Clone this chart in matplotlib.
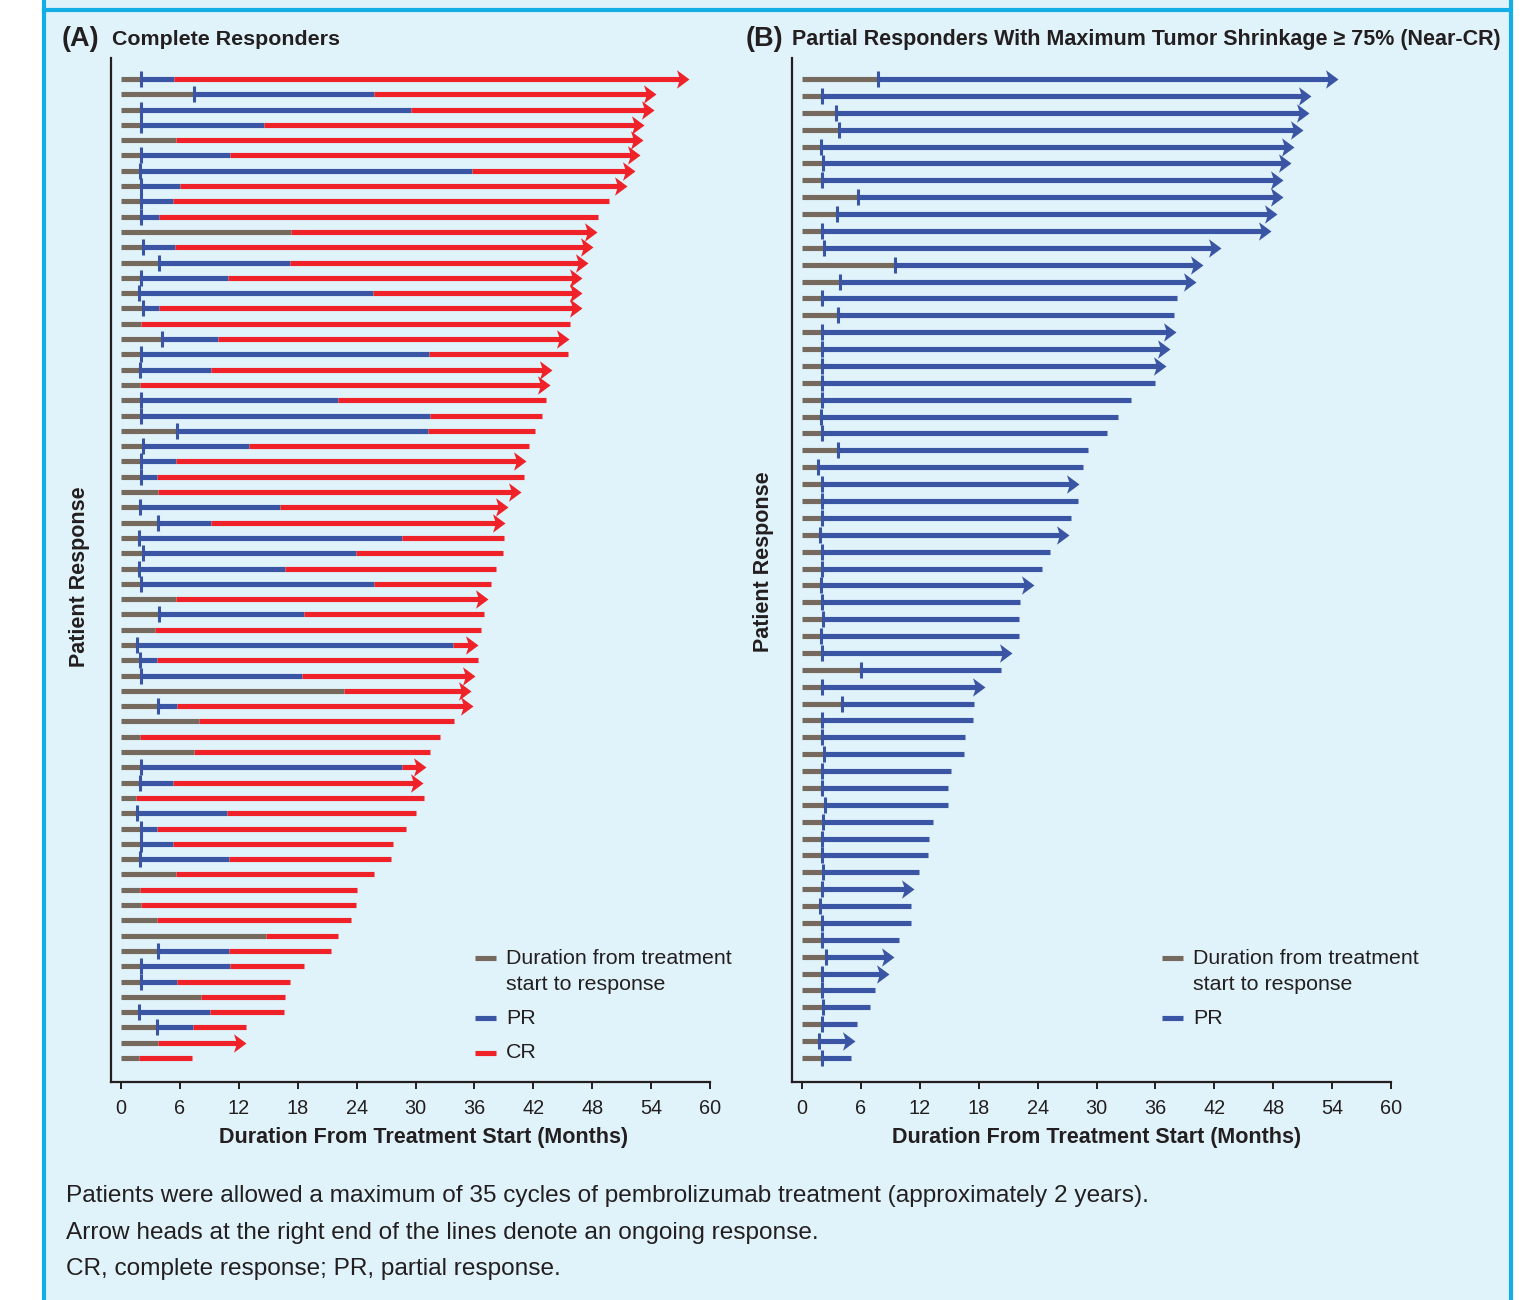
import matplotlib
matplotlib.use("Agg")
import matplotlib.pyplot as plt
from matplotlib.path import Path
from matplotlib.lines import Line2D
from matplotlib.patches import Rectangle

# ---------------- data ----------------
# Panel A: complete responders (months from treatment start)
a_response = [2.0, 7.4, 2.0, 2.0, 5.6, 2.0, 1.9, 2.0, 2.0, 2.0, 17.3, 2.2, 3.9, 2.0, 1.8, 2.2,
              2.0, 4.2, 2.0, 1.9, 1.9, 2.0, 2.0, 5.7, 2.2, 2.0, 2.0, 3.8, 1.9, 3.8, 1.8, 2.2,
              1.8, 2.0, 5.6, 3.9, 3.5, 1.6, 1.9, 2.0, 22.7, 3.8, 7.9, 1.9, 7.4, 2.0, 1.9, 1.5,
              1.6, 2.0, 2.0, 1.9, 5.6, 1.9, 2.0, 3.7, 14.8, 3.8, 2.0, 2.0, 8.2, 1.8, 3.7, 3.8,
              1.8]
a_cr_start = [5.4, 25.8, 29.5, 14.6, 5.6, 11.1, 35.8, 6.0, 5.3, 3.9, 17.3, 5.5, 17.2, 10.9, 25.7, 3.9,
              2.0, 9.9, 31.4, 9.2, 1.9, 22.1, 31.5, 31.3, 13.0, 5.6, 3.7, 3.8, 16.2, 9.2, 28.6, 23.9,
              16.7, 25.8, 5.6, 18.6, 3.5, 33.8, 3.7, 18.4, 22.7, 5.7, 7.9, 1.9, 7.4, 28.6, 5.3, 1.5,
              10.8, 3.7, 5.3, 11.0, 5.6, 1.9, 2.0, 3.7, 14.8, 11.0, 11.1, 5.7, 8.2, 9.1, 7.3, 3.8,
              1.8]
a_end = [57.9, 54.5, 54.3, 53.3, 53.2, 52.9, 52.4, 51.5, 49.7, 48.6, 48.5, 48.1, 47.6, 47.0, 47.0, 47.0,
         45.7, 45.6, 45.5, 43.9, 43.7, 43.3, 42.9, 42.2, 41.6, 41.3, 41.1, 40.7, 39.4, 39.1, 39.0, 38.9,
         38.2, 37.7, 37.4, 37.0, 36.7, 36.4, 36.4, 36.1, 35.7, 35.9, 33.9, 32.5, 31.5, 31.1, 30.8, 30.9,
         30.0, 29.0, 27.7, 27.5, 25.8, 24.0, 23.9, 23.4, 22.1, 21.4, 18.6, 17.2, 16.7, 16.6, 12.7, 12.7,
         7.2]
a_ongoing = [1, 1, 1, 1, 1, 1, 1, 1, 0, 0, 1, 1, 1, 1, 1, 1,
             0, 1, 0, 1, 1, 0, 0, 0, 0, 1, 0, 1, 1, 1, 0, 0,
             0, 0, 1, 0, 0, 1, 0, 1, 1, 1, 0, 0, 0, 1, 1, 0,
             0, 0, 0, 0, 0, 0, 0, 0, 0, 0, 0, 0, 0, 0, 0, 1,
             0]

# Panel B: partial responders with >= 75% shrinkage
b_response = [7.7, 2.0, 3.5, 3.8, 1.9, 2.1, 2.0, 5.7, 3.6, 2.0, 2.2, 9.5, 3.9, 2.0, 3.7,
              2.0, 2.0, 2.0, 2.0, 2.0, 1.9, 2.0, 3.7, 1.6, 2.0, 2.0, 2.0, 1.8, 2.0, 2.0,
              1.9, 2.0, 2.1, 1.9, 2.0, 6.0, 2.0, 4.1, 2.0, 2.0, 2.2, 2.0, 2.0, 2.3, 2.1,
              2.0, 2.0, 2.1, 2.0, 1.8, 2.0, 2.0, 2.4, 2.0, 2.0, 2.1, 2.0, 1.7, 2.0]
b_end = [54.6, 51.8, 51.6, 51.0, 50.1, 49.8, 49.0, 49.0, 48.4, 47.8, 42.7, 40.8, 40.1, 38.2, 37.9,
         38.1, 37.5, 37.1, 36.0, 33.5, 32.2, 31.1, 29.1, 28.6, 28.2, 28.1, 27.4, 27.2, 25.3, 24.4,
         23.6, 22.2, 22.1, 22.1, 21.4, 20.3, 18.6, 17.5, 17.4, 16.6, 16.5, 15.2, 14.9, 14.9, 13.3,
         12.9, 12.8, 11.9, 11.4, 11.1, 11.1, 9.9, 9.4, 8.9, 7.4, 6.9, 5.6, 5.4, 5.0]
b_ongoing = [1, 1, 1, 1, 1, 1, 1, 1, 1, 1, 1, 1, 1, 0, 0,
             1, 1, 1, 0, 0, 0, 0, 0, 0, 1, 0, 0, 1, 0, 0,
             1, 0, 0, 0, 1, 0, 1, 0, 0, 0, 0, 0, 0, 0, 0,
             0, 0, 0, 1, 0, 0, 0, 1, 1, 0, 0, 0, 1, 0]

x_ticks = [0, 6, 12, 18, 24, 30, 36, 42, 48, 54, 60]

# ---------------- style ----------------
W, H = 1526, 1300
BG = "#E1F3FA"
FRAME = "#14AEE6"
GRAY = "#76695D"
BLUE = "#3B55A5"
RED = "#EE2228"
INK = "#231F20"
LW = 3.7
HEAD_MS = 18.0          # arrow head marker size (points)
HEAD_BACK = 0.75        # months trimmed from a line that ends in an arrow head

NARROW = ["Liberation Sans Narrow", "Liberation Sans", "DejaVu Sans"]
REGULAR = ["Liberation Sans", "DejaVu Sans"]
plt.rcParams["font.family"] = REGULAR

# notched arrow head with its tip at the origin
ARROW = Path([(0, 0), (-1, 0.74), (-0.76, 0), (-1, -0.74), (0, 0)],
             [Path.MOVETO, Path.LINETO, Path.LINETO, Path.LINETO, Path.CLOSEPOLY])


def fx(x):
    return x / W


def fy(y):
    return 1 - y / H


fig = plt.figure(figsize=(W / 100, H / 100), dpi=100)
fig.patch.set_facecolor("white")
fig.add_artist(Rectangle((fx(44), 0), fx(1511) - fx(44), 1, transform=fig.transFigure,
                         facecolor=BG, edgecolor="none", zorder=-10))
for seg in [((44, 44), (0, H)), ((1511, 1511), (0, H)), ((44, 1511), (9.5, 9.5))]:
    fig.add_artist(Line2D([fx(v) for v in seg[0]], [fy(v) for v in seg[1]],
                          transform=fig.transFigure, color=FRAME, lw=3.0, zorder=-5))


def make_axes(left_px, zero_px, n_rows, first_px=79, last_px=1058, top_px=58, bottom_px=1082):
    px_per_month = (710 - 121) / 60
    right_px = zero_px + 60 * px_per_month
    ax = fig.add_axes([fx(left_px), fy(bottom_px), fx(right_px) - fx(left_px),
                       fy(top_px) - fy(bottom_px)])
    ax.set_facecolor("none")
    step = (last_px - first_px) / (n_rows - 1)
    ax.set_xlim(-(zero_px - left_px) / px_per_month, 60)
    ax.set_ylim((n_rows - 1) + (bottom_px - last_px) / step, -(first_px - top_px) / step)
    for side in ("top", "right"):
        ax.spines[side].set_visible(False)
    for side in ("left", "bottom"):
        ax.spines[side].set_color(INK)
        ax.spines[side].set_linewidth(1.6)
    ax.set_xticks(x_ticks)
    ax.set_xticklabels([str(t) for t in x_ticks])
    ax.tick_params(axis="x", direction="out", length=5, width=1.4, color=INK, pad=7.5,
                   labelsize=14.3, labelcolor=INK)
    ax.set_yticks([])
    return ax


def draw_row(ax, i, resp, cr, end, ongoing, last_color):
    stop = end - HEAD_BACK if ongoing else end
    ax.plot([0, resp], [i, i], color=GRAY, lw=LW, solid_capstyle="butt", zorder=2)
    if cr > resp:
        ax.plot([resp, min(cr, stop)], [i, i], color=BLUE, lw=LW, solid_capstyle="butt", zorder=2)
    if stop > cr:
        ax.plot([cr, stop], [i, i], color=last_color, lw=LW, solid_capstyle="butt", zorder=2)
    if cr > resp:
        ax.plot([resp], [i], marker="|", ms=11.5, mew=2.2, color=BLUE, zorder=4)
    if ongoing:
        ax.plot([end], [i], marker=ARROW, ms=HEAD_MS, mew=0, color=last_color, zorder=3)


# ---------------- panel A ----------------
axA = make_axes(110.5, 121, len(a_end))
for i in range(len(a_end)):
    draw_row(axA, i, a_response[i], a_cr_start[i], a_end[i], a_ongoing[i], RED)

# ---------------- panel B ----------------
axB = make_axes(792, 802, len(b_end))
for i in range(len(b_end)):
    draw_row(axB, i, b_response[i], b_end[i], b_end[i], b_ongoing[i], BLUE)

# ---------------- labels ----------------
for ax_x, x_center, y_center in [(80, 424, 577), (763, 1097, 562)]:
    fig.text(fx(ax_x), fy(y_center), "Patient Response", rotation=90, ha="center", va="center",
             family=REGULAR, weight="bold", fontsize=15.5, color=INK)
    fig.text(fx(x_center), fy(1137), "Duration From Treatment Start (Months)", ha="center",
             va="center", family=REGULAR, weight="bold", fontsize=15.5, color=INK)

fig.text(fx(62), fy(39.5), "(A)", ha="left", va="center", family=NARROW, weight="bold",
         fontsize=19.5, color=INK)
fig.text(fx(112), fy(39.5), "Complete Responders", ha="left", va="center", family=NARROW,
         weight="bold", fontsize=15.4, color=INK)
fig.text(fx(746), fy(39.5), "(B)", ha="left", va="center", family=NARROW, weight="bold",
         fontsize=19.5, color=INK)
fig.text(fx(792), fy(39.5), "Partial Responders With Maximum Tumor Shrinkage \u2265 75% (Near-CR)",
         ha="left", va="center", family=NARROW, weight="bold", fontsize=15.5, color=INK)


# legends
def legend_entry(x_handle, y, color, lines):
    fig.add_artist(Line2D([fx(x_handle), fx(x_handle + 21)], [fy(y), fy(y)],
                          transform=fig.transFigure, color=color, lw=LW, solid_capstyle="butt"))
    for k, line in enumerate(lines):
        fig.text(fx(x_handle + 31), fy(y + 26 * k), line, ha="left", va="center",
                 family=REGULAR, fontsize=15.4, color=INK)


for xh, entries in [(475, [(958, GRAY, ["Duration from treatment", "start to response"]),
                           (1018, BLUE, ["PR"]), (1053, RED, ["CR"])]),
                    (1162, [(958, GRAY, ["Duration from treatment", "start to response"]),
                            (1018, BLUE, ["PR"])])]:
    for y, c, txt in entries:
        legend_entry(xh, y, c, txt)

notes = ["Patients were allowed a maximum of 35 cycles of pembrolizumab treatment (approximately 2 years).",
         "Arrow heads at the right end of the lines denote an ongoing response.",
         "CR, complete response; PR, partial response."]
for k, note in enumerate(notes):
    fig.text(fx(66), fy(1196 + 36.5 * k), note, ha="left", va="center", family=REGULAR,
             fontsize=17.55, color=INK)

fig.savefig("out.png", dpi=100, facecolor=fig.get_facecolor())
